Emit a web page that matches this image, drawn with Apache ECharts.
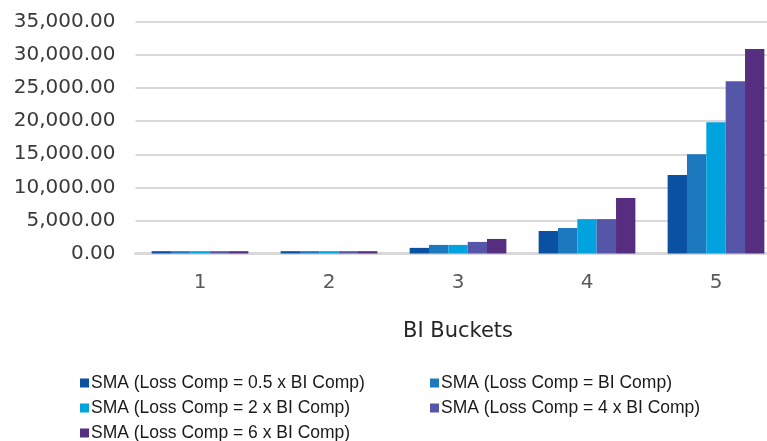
<!DOCTYPE html>
<html>
<head>
<meta charset="utf-8">
<script src="https://cdn.jsdelivr.net/npm/echarts@6/dist/echarts.min.js"></script>
<style>
  html, body { margin: 0; padding: 0; background: #ffffff; }
  #chart { width: 767px; height: 441px; }
</style>
</head>
<body>
<div id="chart"></div>
<script>
// BI bucket categories
const buckets = ['1', '2', '3', '4', '5'];

// SMA capital per bucket for each loss-component multiple
const seriesNames = [
  'SMA (Loss Comp = 0.5 x BI Comp)',
  'SMA (Loss Comp = BI Comp)',
  'SMA (Loss Comp = 2 x BI Comp)',
  'SMA (Loss Comp = 4 x BI Comp)',
  'SMA (Loss Comp = 6 x BI Comp)'
];
const smaHalf = [350, 350, 850, 3400, 11850];
const smaOne  = [350, 350, 1300, 3850, 15000];
const smaTwo  = [350, 350, 1300, 5200, 19850];
const smaFour = [350, 350, 1750, 5200, 26050];
const smaSix  = [350, 350, 2200, 8400, 30900];

// y-axis ticks
const yMin = 0, yMax = 35000, yStep = 5000;

const seriesValues = [smaHalf, smaOne, smaTwo, smaFour, smaSix];
const colors = ['#0B51A1', '#1C78BF', '#00A3DD', '#5656A8', '#572D80'];

const legendFont = "'Liberation Sans', Arial, sans-serif";
const axisFont = "'DejaVu Sans', sans-serif";

function fmt(v) {
  const s = v.toFixed(2);
  const parts = s.split('.');
  parts[0] = parts[0].replace(/\B(?=(\d{3})+(?!\d))/g, ',');
  return parts.join('.');
}

// two-column legend layout
const legendPos = [
  { left: 80, top: 374 },
  { left: 430, top: 374 },
  { left: 80, top: 399 },
  { left: 430, top: 399 },
  { left: 80, top: 424 }
];

const chart = echarts.init(document.getElementById('chart'), null, { renderer: 'canvas' });

chart.setOption({
  animation: false,
  color: colors,
  grid: {
    left: 135.5, top: 22, width: 645, bottom: 187.5,
    containLabel: false,
    outerBoundsMode: 'none'
  },
  legend: seriesNames.map((n, i) => ({
    data: [n],
    left: legendPos[i].left,
    top: legendPos[i].top,
    icon: 'rect',
    itemWidth: 9,
    itemHeight: 9,
    itemGap: 0,
    padding: 0,
    selectedMode: false,
    textStyle: {
      fontFamily: legendFont,
      fontSize: 17.5,
      color: '#1A1A1A',
      lineHeight: 18,
      padding: [0, 0, 0, -3]
    }
  })),
  xAxis: {
    type: 'category',
    data: buckets,
    name: 'BI Buckets',
    nameLocation: 'middle',
    nameGap: 68,
    nameTextStyle: { fontFamily: axisFont, fontSize: 21, color: '#262626' },
    axisLine: { show: true, lineStyle: { color: '#D9D9D9', width: 3 } },
    axisTick: { show: false },
    axisLabel: { fontFamily: axisFont, fontSize: 20, color: '#595959', margin: 19 }
  },
  yAxis: {
    type: 'value',
    min: yMin,
    max: yMax,
    interval: yStep,
    axisLine: { show: false },
    axisTick: { show: false },
    splitLine: { show: true, lineStyle: { color: '#D9D9D9', width: 2 } },
    axisLabel: {
      fontFamily: axisFont,
      fontSize: 20,
      color: '#3A3A3A',
      margin: 20,
      formatter: v => fmt(v)
    }
  },
  series: seriesNames.map((n, i) => ({
    name: n,
    type: 'bar',
    data: seriesValues[i],
    barGap: '0%',
    barCategoryGap: '25%',
    itemStyle: { color: colors[i] }
  }))
});
</script>
</body>
</html>
